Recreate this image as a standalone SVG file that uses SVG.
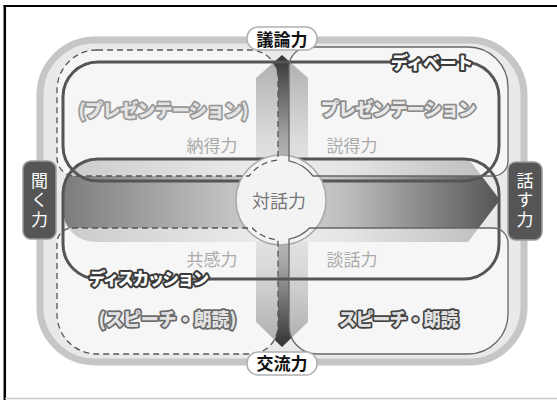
<svg xmlns="http://www.w3.org/2000/svg" width="557" height="400" viewBox="0 0 557 400">
<defs>
<linearGradient id="hg" gradientUnits="userSpaceOnUse" x1="63" y1="0" x2="500" y2="0">
<stop offset="0" stop-color="#7c7c7c"/><stop offset="0.35" stop-color="#bdbdbd"/><stop offset="0.5" stop-color="#d4d4d4"/><stop offset="0.65" stop-color="#bdbdbd"/><stop offset="1" stop-color="#555"/>
</linearGradient>
<linearGradient id="vg" gradientUnits="userSpaceOnUse" x1="0" y1="55" x2="0" y2="347">
<stop offset="0" stop-color="#333"/><stop offset="0.28" stop-color="#a4a4a4"/><stop offset="0.5" stop-color="#d4d4d4"/><stop offset="0.72" stop-color="#a4a4a4"/><stop offset="1" stop-color="#333"/>
</linearGradient>
</defs>
<style>
.jp{font-family:"Noto Sans CJK JP","Noto Sans CJK SC",sans-serif}
.q{fill:#fff;fill-opacity:0.6}
.dash{fill:none;stroke:#555;stroke-width:1.3;stroke-dasharray:6 4}
.thin{fill:none;stroke:#666;stroke-width:1.3}
.thick{fill:none;stroke:#555;stroke-width:3}
.ol{font-weight:900;paint-order:stroke;stroke-linejoin:round;text-anchor:middle}
.sub{font-size:17px;fill:#ababab;text-anchor:middle}
.lab{font-size:17px;font-weight:700;fill:#111;text-anchor:middle}
.side{font-size:17px;fill:#fff;text-anchor:middle;writing-mode:vertical-rl;text-orientation:upright;letter-spacing:2.5px}
</style>
<rect width="557" height="400" fill="#fff"/>
<g id="frame">
<line x1="3.5" y1="6" x2="557" y2="6" stroke="#000" stroke-width="2"/>
<line x1="4.8" y1="5" x2="4.8" y2="400" stroke="#000" stroke-width="2.5"/>
<line x1="5" y1="398.5" x2="557" y2="398.5" stroke="#ccc" stroke-width="1.5"/>
</g>
<g id="outer"><rect x="40" y="40" width="484" height="322" rx="55" fill="#e9e9e9" stroke="#c6c6c6" stroke-width="7"/></g>
<g id="bands">
<path d="M256,78 L282,55 L308,78 V322 L282,347 L256,322 Z" fill="url(#vg)"/>
<path d="M95,158 H468 L500,200 L468,242 H95 A32 32 0 0 1 63 210 V190 A32 32 0 0 1 95 158 Z" fill="url(#hg)"/>
</g>
<g id="quadrant-fills">
<path class="q" d="M97,50 H250 A28 28 0 0 1 278 78 V160.1 A40 40 0 0 0 249 176 H75 A18 18 0 0 1 57 158 V90 A40 40 0 0 1 97 50 Z"/>
<path class="q" d="M72,228 H252.4 A40 40 0 0 0 278 239.9 V326 A28 28 0 0 1 250 354 H97 A40 40 0 0 1 57 314 V243 A15 15 0 0 1 72 228 Z"/>
<path class="q" d="M309,47 H468 A40 40 0 0 1 508 87 V161 A15 15 0 0 1 493 176 H313 A40 40 0 0 0 289 160.8 V67 A20 20 0 0 1 309 47 Z"/>
<path class="q" d="M309.6,228 H493 A15 15 0 0 1 508 243 V314 A40 40 0 0 1 468 354 H317 A28 28 0 0 1 289 326 V239.2 A40 40 0 0 0 309.6 228 Z"/>
</g>
<g id="connectors">
<rect id="debate-rect" class="thick" x="63" y="62" width="436" height="119" rx="35"/>
<rect id="discussion-rect" class="thick" x="63" y="159" width="436" height="120" rx="35"/>
</g>
<g id="center">
<circle cx="281" cy="200" r="45" fill="#f3f3f3" stroke="#aaa" stroke-width="1.5"/>
<text class="jp" x="279" y="208" font-size="18" fill="#777" text-anchor="middle">対話力</text>
</g>
<g id="quadrant-outlines">
<path class="dash" d="M97,50 H250 A28 28 0 0 1 278 78 V160.1 A40 40 0 0 0 249 176 H75 A18 18 0 0 1 57 158 V90 A40 40 0 0 1 97 50 Z"/>
<path class="dash" d="M72,228 H252.4 A40 40 0 0 0 278 239.9 V326 A28 28 0 0 1 250 354 H97 A40 40 0 0 1 57 314 V243 A15 15 0 0 1 72 228 Z"/>
<path class="thin" d="M309,47 H468 A40 40 0 0 1 508 87 V161 A15 15 0 0 1 493 176 H313 A40 40 0 0 0 289 160.8 V67 A20 20 0 0 1 309 47 Z"/>
<path class="thin" d="M309.6,228 H493 A15 15 0 0 1 508 243 V314 A40 40 0 0 1 468 354 H317 A28 28 0 0 1 289 326 V239.2 A40 40 0 0 0 309.6 228 Z"/>
</g>
<g id="q-tl">
<text class="jp ol" x="163.5" y="117" font-size="18" fill="#e4e4e4" stroke="#999" stroke-width="3.5" textLength="170" lengthAdjust="spacing">(プレゼンテーション)</text>
<text class="jp sub" x="212" y="152">納得力</text>
</g>
<g id="q-tr">
<text class="jp ol" x="398.5" y="116" font-size="18" fill="#e8e8e8" stroke="#8c8c8c" stroke-width="3.5" textLength="155" lengthAdjust="spacing">プレゼンテーション</text>
<text class="jp sub" x="352" y="152">説得力</text>
</g>
<g id="q-bl">
<text class="jp sub" x="212" y="266">共感力</text>
<text class="jp ol" x="167.5" y="326" font-size="18" fill="#e2e2e2" stroke="#6a6a6a" stroke-width="3.5" textLength="138" lengthAdjust="spacing">(スピーチ・朗読)</text>
</g>
<g id="q-br">
<text class="jp sub" x="352" y="266">談話力</text>
<text class="jp ol" x="398.5" y="326" font-size="18" fill="#e0e0e0" stroke="#444" stroke-width="3.5" textLength="120" lengthAdjust="spacing">スピーチ・朗読</text>
</g>
<g id="debate-label">
<text class="jp ol" x="432" y="69" font-size="17" fill="#fff" stroke="#3a3a3a" stroke-width="4" textLength="82" lengthAdjust="spacing">ディベート</text>
</g>
<g id="discussion-label">
<text class="jp ol" x="149" y="284.5" font-size="16.5" fill="#fff" stroke="#3a3a3a" stroke-width="4" textLength="120" lengthAdjust="spacing">ディスカッション</text>
</g>
<g id="top-label">
<rect x="247" y="27" width="70" height="23" rx="11" fill="#fff" stroke="#b0b0b0" stroke-width="1.5"/>
<text class="jp lab" x="282" y="45.5">議論力</text>
</g>
<g id="bottom-label">
<rect x="247" y="352" width="70" height="23" rx="11" fill="#fff" stroke="#b0b0b0" stroke-width="1.5"/>
<text class="jp lab" x="282" y="370">交流力</text>
</g>
<g id="left-label">
<rect x="23" y="161" width="33" height="78" rx="8" fill="#555" stroke="#9a9a9a" stroke-width="1.5"/>
<text class="jp side" x="39.5" y="201">聞く力</text>
</g>
<g id="right-label">
<rect x="508" y="162" width="34" height="78" rx="8" fill="#555" stroke="#9a9a9a" stroke-width="1.5"/>
<text class="jp side" x="525" y="201">話す力</text>
</g>
</svg>
